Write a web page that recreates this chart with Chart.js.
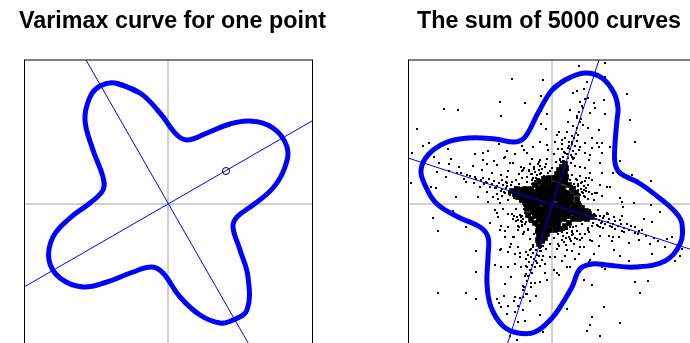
<!DOCTYPE html>
<html>
<head>
<meta charset="utf-8">
<script src="https://cdn.jsdelivr.net/npm/chart.js@4"></script>
<style>
  html, body { margin: 0; padding: 0; background: #fff; }
  #wrap { position: relative; width: 690px; height: 343px; overflow: hidden; }
  canvas { position: absolute; top: 0; }
  #left { left: 0; }
  #right { left: 345px; }
</style>
</head>
<body>
<div id="wrap">
  <canvas id="left" width="345" height="360"></canvas>
  <canvas id="right" width="408" height="360"></canvas>
</div>
<script>
// ---- data -------------------------------------------------------------
const LIM = 1.44;
const titles = ['Varimax curve for one point', 'The sum of 5000 curves'];

// criterion curve for a single loading point
const leftCurve = [
  [-0.53,1.21],[-0.28,1.11],[-0.08,0.91],[0.09,0.69],[0.20,0.64],[0.39,0.71],[0.62,0.80],
  [0.82,0.83],[1.05,0.76],[1.19,0.57],[1.17,0.37],[1.05,0.16],[0.85,-0.01],[0.69,-0.13],
  [0.65,-0.23],[0.72,-0.46],[0.80,-0.73],[0.79,-1.06],[0.65,-1.16],[0.52,-1.19],[0.32,-1.11],
  [0.12,-0.93],[-0.05,-0.69],[-0.16,-0.63],[-0.35,-0.68],[-0.61,-0.78],[-0.85,-0.83],
  [-1.08,-0.74],[-1.19,-0.56],[-1.15,-0.33],[-0.98,-0.14],[-0.78,0.01],[-0.65,0.14],
  [-0.65,0.27],[-0.75,0.54],[-0.83,0.84],[-0.78,1.07],[-0.68,1.18]
];
const leftAxisA = [[-1.44,-0.83],[1.44,0.83]];
const leftAxisB = [[-0.82,1.44],[0.83,-1.44]];
const leftPoint = [[0.58,0.33]];

// summed criterion curve
const rightCurve = [
  [0.00,1.14],[0.13,1.24],[0.33,1.31],[0.50,1.26],[0.62,1.11],[0.66,0.96],[0.65,0.84],
  [0.63,0.60],[0.63,0.41],[0.68,0.31],[0.87,0.21],[1.10,0.04],[1.25,-0.10],[1.30,-0.20],
  [1.28,-0.40],[1.13,-0.57],[0.83,-0.63],[0.55,-0.61],[0.40,-0.60],[0.28,-0.65],[0.20,-0.83],
  [0.10,-1.00],[0.00,-1.14],[-0.17,-1.28],[-0.34,-1.29],[-0.49,-1.22],[-0.61,-1.03],
  [-0.65,-0.80],[-0.64,-0.53],[-0.64,-0.33],[-0.72,-0.23],[-0.94,-0.13],[-1.16,0.01],
  [-1.27,0.19],[-1.31,0.34],[-1.24,0.49],[-1.07,0.61],[-0.84,0.66],[-0.57,0.65],
  [-0.37,0.62],[-0.27,0.67],[-0.14,0.91]
];
const rightAxisA = [[-1.44,0.46],[1.44,-0.47]];
const rightAxisB = [[0.47,1.44],[-0.46,-1.44]];

// loadings: scattered points away from the centre
const loadingsOuter = [
  [-0.40,1.25],[-0.09,1.24],[-0.11,1.08],[-0.52,1.02],[-0.27,1.01],[-1.08,0.95],[-0.94,0.94],
  [-0.51,0.88],[-0.11,0.93],[-0.05,0.90],[-0.11,0.80],[-0.06,0.75],[-1.35,0.75],[-0.12,0.62],
  [-1.23,0.61],[-1.29,0.58],[-1.40,0.51],[-1.04,0.55],[-0.53,0.60],[-0.30,0.58],[-0.28,0.54],
  [-0.45,0.53],[-0.64,0.53],[-0.77,0.50],[-1.18,0.47],[-1.01,0.45],[-0.48,0.46],[-0.37,0.50],
  [-0.69,0.44],[-0.58,0.43],[-0.20,0.45],[-0.13,0.42],[-0.04,0.54],[-1.13,0.41],[-1.03,0.40],
  [-0.93,0.37],[-0.79,0.38],[-0.65,0.40],[-0.55,0.39],[-0.42,0.41],[-0.31,0.37],[-0.23,0.34],
  [-0.07,0.37],[-1.15,0.32],[-1.06,0.27],[-0.91,0.31],[-0.86,0.22],[-0.77,0.27],[-0.70,0.34],
  [-0.60,0.31],[-0.51,0.29],[-0.44,0.33],[-1.41,0.21],[-1.21,0.17],[-1.16,0.16],[-0.96,0.07],
  [-0.74,0.07],[-0.65,0.12],[-0.72,0.17],[-0.57,0.16],[-0.37,0.17],[-0.54,0.05],[-0.64,0.02],
  [0.27,1.38],[0.53,1.41],[0.53,1.27],[0.21,1.11],[0.25,1.13],[0.75,1.10],[0.36,1.06],
  [0.52,1.04],[0.28,1.02],[0.42,1.01],[0.18,0.94],[0.31,0.96],[0.43,0.96],[0.38,0.91],
  [0.53,0.90],[0.78,0.84],[0.16,0.82],[0.25,0.86],[0.31,0.79],[0.36,0.76],[0.47,0.74],
  [0.05,0.69],[0.15,0.72],[0.83,0.62],[0.03,0.62],[0.10,0.64],[0.40,0.66],[0.33,0.61],
  [0.50,0.61],[0.47,0.57],[0.58,0.57],[0.40,0.56],[0.27,0.54],[0.33,0.51],[0.50,0.51],
  [0.20,0.47],[0.37,0.44],[0.68,0.43],[0.23,0.38],[0.33,0.36],[0.50,0.31],[0.80,0.29],
  [0.20,0.29],[0.37,0.26],[0.25,0.24],[0.99,0.23],[0.48,0.19],[0.32,0.18],[0.58,0.17],
  [0.18,0.15],[0.40,0.24],[0.32,0.14],[0.43,0.11],[0.50,0.08],[0.70,0.02],[0.82,0.01],
  [0.42,0.04],[0.33,0.07],[0.28,0.09],
  [-0.99,-0.07],[-1.19,-0.14],[-1.14,-0.27],[-0.86,-0.23],[-0.76,-0.47],[-0.76,-0.68],
  [-1.14,-0.89],[-0.86,-0.89],[-0.76,-0.95],[-0.57,-0.06],[-0.54,-0.13],[-0.51,-0.22],
  [-0.47,-0.27],[-0.51,-0.45],[-0.57,-0.61],[-0.51,-0.63],[-0.44,-0.63],[-0.47,-0.80],
  [-0.41,-0.73],[-0.48,-0.92],[-0.55,-0.95],[-0.53,-0.99],[-0.44,-1.02],[-0.51,-1.03],
  [-0.37,-0.93],[-0.29,-0.93],[-0.38,-0.97],[-0.29,-1.06],[-0.45,-1.10],[-0.34,-1.18],
  [-0.27,-1.17],[-0.12,-1.11],[-0.09,-1.28],[-0.42,-1.32],[-0.35,-1.36],[-0.22,-0.97],
  [-0.16,-0.92],[-0.21,-0.83],[-0.12,-0.78],[-0.07,-0.69],[-0.17,-0.79],[-0.26,-0.90],
  [-0.29,-0.82],[-0.27,-0.72],[-0.31,-0.63],[-0.37,-0.60],[-0.26,-0.62],[-0.37,-0.50],
  [-0.32,-0.53],[-0.26,-0.55],[-0.12,-0.62],[-0.07,-0.60],[-0.02,-0.53],[-0.09,-0.52],
  [-0.44,-0.48],[-0.41,-0.40],[-0.34,-0.43],[-0.26,-0.48],[-0.19,-0.43],[-0.12,-0.47],
  [-0.06,-0.45],[-0.38,-0.33],[-0.47,-0.33],[-0.29,-0.30],[-0.44,-0.23],[-0.34,-0.22],
  [-0.39,-0.15],[-0.31,-0.13],[-0.44,-0.10],[-0.49,-0.05],
  [0.99,-0.01],[1.08,-0.08],[0.92,-0.15],[1.00,-0.18],[1.15,-0.35],[1.20,-0.33],[0.98,-0.40],
  [1.13,-0.43],[1.00,-0.50],[1.30,-0.45],[1.28,-0.52],[1.23,-0.57],[0.80,-0.63],[0.77,-0.57],
  [0.65,-0.62],[0.53,-0.65],[0.50,-0.63],[0.15,-0.63],[0.07,-0.71],[0.02,-0.66],[0.40,-0.81],
  [0.32,-0.76],[0.83,-0.78],[0.96,-0.77],[0.88,-0.89],[0.15,-1.05],[0.52,-1.03],[0.40,-1.13],
  [0.38,-1.21],[0.68,-1.19],[0.35,-1.27],[0.48,-1.32],
  [0.55,-0.10],[0.62,-0.13],[0.70,-0.12],[0.75,-0.20],[0.83,-0.23],[0.87,-0.27],[0.72,-0.28],
  [0.60,-0.23],[0.57,-0.32],[0.48,-0.32],[0.40,-0.37],[0.37,-0.28],[0.32,-0.43],[0.25,-0.35],
  [0.20,-0.47],[0.27,-0.50],[0.13,-0.52],[0.07,-0.42],[0.03,-0.53],[0.60,-0.37],[0.67,-0.33],
  [0.77,-0.39],[0.87,-0.36],[0.62,-0.46],[0.47,-0.42],[0.42,-0.50],[0.37,-0.58],[0.23,-0.55],
  [0.10,-0.57],[0.68,-0.52]
];

// loadings: the busier ring around the centre
const loadingsMiddle = [
  [-0.65,0.21],[-0.69,0.51],[-0.47,0.47],[-0.39,0.41],[-0.25,0.51],[-0.19,0.57],[-0.05,0.59],
  [-0.12,0.44],[0.28,0.57],[0.38,0.49],[0.45,0.61],[0.48,0.41],[0.28,0.37],[0.38,0.31],
  [0.61,0.31],[0.55,0.17],[0.45,0.11],[0.68,0.06],[0.71,-0.03],[0.55,-0.09],[0.68,-0.16],
  [0.48,-0.23],[0.61,-0.33],[0.38,-0.36],[0.28,-0.43],[0.15,-0.46],[0.38,-0.56],[0.18,-0.63],
  [0.05,-0.69],[-0.05,-0.76],[-0.15,-0.59],[-0.32,-0.49],[-0.42,-0.43],[-0.52,-0.46],
  [-0.39,-0.33],[-0.52,-0.26],[-0.62,-0.19],[-0.55,-0.09],[-0.52,0.01],[-0.59,0.07],
  [-0.45,0.27],[-0.29,0.34],[0.08,0.44],[0.11,0.34],
  [-0.30,0.26],[-0.25,0.22],[-0.33,0.20],[-0.40,0.22],[-0.45,0.18],[-0.48,0.12],[-0.42,0.10],
  [-0.36,0.12],[-0.30,0.15],[-0.26,0.10],[-0.20,0.20],[-0.16,0.26],[-0.12,0.30],[-0.08,0.28],
  [-0.04,0.31],[-0.02,0.26],[-0.10,0.22],[-0.50,0.08],[-0.44,0.04],[-0.38,0.06],[-0.32,0.03],
  [0.02,0.50],[0.06,0.55],[0.08,0.45],[0.12,0.52],[0.04,0.42],[0.10,0.38],[0.14,0.42],
  [0.00,0.36],[0.07,0.33],[0.16,0.34],[0.12,0.28],[0.03,0.28],[0.18,0.24],[0.08,0.22],
  [0.14,0.20],[0.22,0.20],[0.10,0.60],[0.13,0.66],[0.07,0.72],[0.17,0.58],[0.20,0.62],
  [-0.20,-0.05],[-0.25,-0.10],[-0.22,-0.18],[-0.28,-0.05],[-0.16,-0.22],[-0.30,-0.18],
  [-0.24,-0.26],[-0.18,-0.30],[-0.12,-0.34],[-0.08,-0.38],[-0.15,-0.38],[-0.22,-0.35],
  [-0.10,-0.28],[-0.04,-0.30],[-0.02,-0.40],
  [0.26,-0.14],[0.30,-0.20],[0.35,-0.16],[0.40,-0.22],[0.44,-0.15],[0.50,-0.18],[0.36,-0.26],
  [0.24,-0.22],[0.20,-0.28],[0.28,-0.30],[0.16,-0.20],[0.46,-0.06],[0.38,-0.06],[0.30,-0.02],
  [0.25,0.05],[0.32,0.08],[0.20,0.12],[0.26,0.14],[0.12,-0.26],[0.06,-0.30],[0.04,-0.24],
  // along the upper-left arm
  [-0.41,0.19],[-0.38,0.07],[-0.43,0.10],[-0.45,0.21],[-0.42,0.09],[-0.46,0.16],[-0.43,0.12],
  [-0.49,0.19],[-0.47,0.11],[-0.50,0.15],[-0.46,0.22],[-0.53,0.21],[-0.51,0.13],[-0.55,0.18],
  [-0.50,0.24],[-0.58,0.23],[-0.56,0.16],[-0.60,0.20],[-0.55,0.10],[-0.63,0.25],[-0.62,0.17],
  [-0.66,0.22],[-0.69,0.26],[-0.68,0.20],[-0.71,0.24],[-0.76,0.25],[-0.78,0.21],[-0.82,0.28],
  [-0.85,0.29],[-0.88,0.25],[-0.95,0.31],[-1.03,0.33],
  // along the lower-right arm
  [0.41,-0.19],[0.38,-0.08],[0.43,-0.11],[0.45,-0.21],[0.42,-0.10],[0.47,-0.16],[0.44,-0.12],
  [0.49,-0.19],[0.48,-0.12],[0.51,-0.14],[0.46,-0.22],[0.53,-0.20],[0.52,-0.12],[0.56,-0.18],
  [0.51,-0.24],[0.58,-0.22],[0.57,-0.15],[0.61,-0.20],[0.56,-0.10],[0.63,-0.25],[0.63,-0.17],
  [0.66,-0.22],[0.70,-0.27],[0.69,-0.20],[0.72,-0.24],[0.77,-0.26],[0.79,-0.22],[0.83,-0.29],
  [0.86,-0.30],[0.90,-0.26],[0.94,-0.32],[1.02,-0.34],[1.06,-0.37],
  // along the upper-right arm
  [0.19,0.41],[0.08,0.38],[0.11,0.43],[0.21,0.45],[0.09,0.42],[0.16,0.46],[0.12,0.43],
  [0.19,0.49],[0.11,0.47],[0.15,0.50],[0.22,0.46],[0.21,0.53],[0.13,0.51],[0.18,0.55],
  [0.24,0.50],[0.23,0.58],[0.16,0.56],[0.20,0.60],[0.10,0.55],[0.25,0.63],[0.17,0.62],
  [0.22,0.66],[0.26,0.69],[0.20,0.68],[0.24,0.71],[0.25,0.76],[0.21,0.78],[0.28,0.82],
  [0.29,0.85],[0.25,0.88],[0.27,0.92],[0.30,0.98],[0.33,1.05],[0.32,1.15],[0.35,1.22],
  // along the lower-left arm
  [-0.19,-0.41],[-0.08,-0.38],[-0.11,-0.43],[-0.21,-0.45],[-0.09,-0.42],[-0.16,-0.46],
  [-0.12,-0.44],[-0.19,-0.49],[-0.11,-0.47],[-0.15,-0.51],[-0.22,-0.46],[-0.21,-0.53],
  [-0.13,-0.52],[-0.18,-0.55],[-0.24,-0.51],[-0.23,-0.58],[-0.16,-0.57],[-0.20,-0.61],
  [-0.10,-0.56],[-0.25,-0.63],[-0.17,-0.63],[-0.22,-0.66],[-0.26,-0.70],[-0.20,-0.69],
  [-0.24,-0.72],[-0.25,-0.77],[-0.21,-0.79],[-0.28,-0.83],[-0.29,-0.86],[-0.25,-0.90],
  [-0.32,-0.94],[-0.34,-1.02],[-0.37,-1.08],
  // between the arms
  [-0.15,0.25],[-0.20,0.30],[-0.25,0.27],[-0.18,0.35],[-0.10,0.35],[-0.06,0.40],[-0.14,0.40],
  [-0.22,0.40],[-0.28,0.36],[-0.33,0.30],[-0.36,0.24],[-0.05,0.45],[-0.02,0.33],[-0.08,0.25],
  [-0.20,0.24],[-0.30,0.33],
  [0.15,-0.25],[0.20,-0.31],[0.25,-0.27],[0.18,-0.35],[0.10,-0.36],[0.06,-0.40],[0.14,-0.41],
  [0.22,-0.40],[0.28,-0.36],[0.33,-0.30],[0.36,-0.24],[0.05,-0.45],[0.02,-0.34],[0.08,-0.25],
  [0.21,-0.23],[0.30,-0.34],
  [0.22,0.10],[0.26,0.18],[0.30,0.12],[0.20,0.18],[0.24,0.25],[0.30,0.22],[0.34,0.16],
  [0.36,0.05],[0.40,0.10],[0.16,0.28],[0.28,0.28],[0.34,0.26],
  [-0.22,-0.10],[-0.26,-0.18],[-0.30,-0.12],[-0.20,-0.18],[-0.24,-0.25],[-0.30,-0.22],
  [-0.34,-0.16],[-0.36,-0.05],[-0.40,-0.10],[-0.16,-0.28],[-0.28,-0.28],[-0.34,-0.26],
  // fuzzy edge of the cluster, in the gaps between arms
  [0.25,0.13],[0.23,0.17],[0.27,0.10],[0.29,0.15],[0.26,0.20],[0.31,0.11],[0.32,0.18],
  [0.34,0.13],[0.29,0.21],[0.36,0.19],[0.37,0.12],[0.33,0.23],
  [-0.13,0.25],[-0.17,0.23],[-0.10,0.27],[-0.15,0.29],[-0.19,0.26],[-0.11,0.31],[-0.17,0.32],
  [-0.13,0.34],[-0.21,0.30],[-0.18,0.37],[-0.12,0.38],[-0.23,0.33],
  [-0.25,-0.13],[-0.22,-0.17],[-0.27,-0.09],[-0.29,-0.15],[-0.27,-0.20],[-0.32,-0.11],
  [-0.31,-0.17],[-0.35,-0.13],[-0.30,-0.21],[-0.36,-0.17],[-0.38,-0.12],[-0.33,-0.23],
  [0.13,-0.25],[0.18,-0.23],[0.10,-0.28],[0.15,-0.29],[0.20,-0.27],[0.11,-0.32],[0.17,-0.33],
  [0.14,-0.34],[0.21,-0.30],[0.19,-0.37],[0.12,-0.38],[0.23,-0.34]
];

// loadings: the solid cluster at the centre
const loadingsCore = [
  [-0.08,0.20],[-0.03,0.21],[0.02,0.20],[0.07,0.19],
  [-0.14,0.16],[-0.09,0.17],[-0.04,0.16],[0.01,0.16],[0.06,0.15],[0.11,0.16],
  [-0.18,0.12],[-0.13,0.12],[-0.08,0.13],[-0.03,0.12],[0.02,0.11],[0.07,0.12],[0.12,0.12],[0.16,0.11],
  [-0.20,0.08],[-0.15,0.07],[-0.10,0.08],[-0.05,0.08],[0.00,0.09],[0.05,0.08],[0.10,0.07],[0.15,0.08],[0.19,0.08],
  [-0.21,0.04],[-0.16,0.04],[-0.11,0.03],[-0.06,0.04],[-0.01,0.04],[0.04,0.05],[0.09,0.04],[0.14,0.03],[0.19,0.04],
  [-0.22,0.00],[-0.17,0.00],[-0.12,0.01],[-0.07,0.00],[-0.02,0.00],[0.03,-0.01],[0.08,0.00],[0.13,0.00],[0.18,0.01],[0.22,-0.01],
  [-0.20,-0.04],[-0.15,-0.04],[-0.10,-0.05],[-0.05,-0.04],[0.00,-0.04],[0.05,-0.04],[0.10,-0.03],[0.15,-0.04],[0.20,-0.05],
  [-0.19,-0.08],[-0.14,-0.08],[-0.09,-0.08],[-0.04,-0.09],[0.01,-0.08],[0.06,-0.08],[0.11,-0.08],[0.16,-0.09],[0.20,-0.08],
  [-0.17,-0.12],[-0.12,-0.12],[-0.07,-0.11],[-0.02,-0.12],[0.03,-0.12],[0.08,-0.13],[0.13,-0.12],[0.17,-0.12],
  [-0.13,-0.16],[-0.08,-0.16],[-0.03,-0.17],[0.02,-0.16],[0.07,-0.16],[0.12,-0.15],
  [-0.09,-0.20],[-0.04,-0.20],[0.01,-0.21],[0.06,-0.20],
  // outer ring of the cluster
  [0.26,0.00],[0.25,0.05],[0.24,0.11],[0.21,0.15],[0.17,0.19],[0.13,0.22],[0.08,0.25],
  [0.03,0.26],[-0.03,0.26],[-0.08,0.25],[-0.13,0.22],[-0.17,0.19],[-0.21,0.15],[-0.24,0.11],
  [-0.25,0.05],[-0.26,0.00],[-0.25,-0.05],[-0.24,-0.11],[-0.21,-0.15],[-0.17,-0.19],
  [-0.13,-0.22],[-0.08,-0.25],[-0.03,-0.26],[0.03,-0.26],[0.08,-0.25],[0.13,-0.22],
  [0.17,-0.19],[0.21,-0.15],[0.24,-0.11],[0.25,-0.05],
  // arms of the cluster
  [0.23,-0.14],[0.24,-0.10],[0.25,-0.06],[0.27,-0.02],[0.27,-0.15],[0.28,-0.11],[0.29,-0.07],
  [0.30,-0.04],[0.31,-0.14],[0.32,-0.11],[0.34,-0.07],[0.35,-0.15],[0.37,-0.10],[0.40,-0.13],
  [-0.23,0.14],[-0.24,0.10],[-0.25,0.06],[-0.27,0.02],[-0.27,0.15],[-0.28,0.11],[-0.29,0.07],
  [-0.30,0.04],[-0.31,0.14],[-0.32,0.11],[-0.34,0.07],[-0.35,0.15],[-0.37,0.10],[-0.40,0.13],
  [0.13,0.23],[0.09,0.24],[0.06,0.25],[0.03,0.26],[0.14,0.27],[0.10,0.28],[0.07,0.29],
  [0.05,0.30],[0.13,0.31],[0.10,0.33],[0.07,0.34],[0.14,0.36],[0.10,0.37],[0.13,0.40],
  [-0.13,-0.23],[-0.09,-0.24],[-0.06,-0.25],[-0.03,-0.26],[-0.14,-0.27],[-0.10,-0.28],[-0.07,-0.29],
  [-0.05,-0.30],[-0.13,-0.31],[-0.10,-0.33],[-0.07,-0.34],[-0.14,-0.36],[-0.10,-0.37],[-0.13,-0.40]
];

// ---- helpers ----------------------------------------------------------
const toXY = arr => arr.map(([x, y]) => ({ x, y }));
// repeat the first two vertices so the smoothed outline closes without a kink
const closeLoop = arr => [...arr, arr[0], arr[1]];

const BLUE = '#0000ff';
const TITLE_FONT = "bold 23.3px 'Liberation Sans', Arial, Helvetica, sans-serif";

// grey reference cross under the data, black frame over it
const framePlugin = {
  id: 'frame',
  beforeDatasetsDraw(chart) {
    const { ctx, chartArea: a, scales: { x, y } } = chart;
    const x0 = x.getPixelForValue(0), y0 = y.getPixelForValue(0);
    ctx.save();
    ctx.strokeStyle = '#d0d0d0';
    ctx.lineWidth = 2;
    ctx.beginPath();
    ctx.moveTo(x0, a.top); ctx.lineTo(x0, a.bottom);
    ctx.moveTo(a.left, y0); ctx.lineTo(a.right, y0);
    ctx.stroke();
    ctx.restore();
  },
  afterDatasetsDraw(chart) {
    const { ctx, chartArea: a } = chart;
    ctx.save();
    ctx.strokeStyle = '#000';
    ctx.lineWidth = 1;
    ctx.strokeRect(a.left + 0.5, a.top, a.right - a.left, a.bottom - a.top);
    ctx.restore();
  }
};

// panel heading, centred on the canvas and free of the plot-area width limit
const headingPlugin = {
  id: 'heading',
  afterDraw(chart, args, opts) {
    const ctx = chart.ctx;
    ctx.save();
    ctx.font = TITLE_FONT;
    ctx.fillStyle = '#000';
    ctx.textAlign = 'center';
    ctx.textBaseline = 'alphabetic';
    ctx.fillText(opts.text, chart.width / 2, 28);
    ctx.restore();
  }
};

function curveSet(points, order) {
  return { data: toXY(closeLoop(points)), showLine: true, borderColor: BLUE, borderWidth: 5,
           pointRadius: 0, tension: 0.4, fill: false, order };
}
function axisSet(points, order) {
  return { data: toXY(points), showLine: true, borderColor: BLUE, borderWidth: 1,
           pointRadius: 0, tension: 0, fill: false, order };
}
function dotSet(points, radius, order) {
  return { data: toXY(points), showLine: false, pointStyle: 'rect', pointRadius: radius,
           backgroundColor: '#000', borderWidth: 0, order };
}

function makeChart(id, title, padLeft, padRight, datasets) {
  return new Chart(document.getElementById(id), {
    type: 'scatter',
    data: { datasets },
    options: {
      responsive: false,
      animation: false,
      devicePixelRatio: 1,
      events: [],
      layout: { padding: { left: padLeft, right: padRight, top: 60, bottom: 12 } },
      scales: {
        x: { type: 'linear', min: -LIM, max: LIM, display: false },
        y: { type: 'linear', min: -LIM, max: LIM, display: false }
      },
      plugins: {
        legend: { display: false },
        tooltip: { enabled: false },
        title: { display: false },
        heading: { text: title }
      }
    },
    plugins: [framePlugin, headingPlugin]
  });
}

// ---- charts -----------------------------------------------------------
makeChart('left', titles[0], 24, 33, [
  curveSet(leftCurve, 3),
  axisSet(leftAxisA, 2),
  axisSet(leftAxisB, 2),
  { data: toXY(leftPoint), showLine: false, pointStyle: 'circle', pointRadius: 3.5,
    borderColor: '#000', borderWidth: 1, backgroundColor: 'rgba(0,0,0,0)', order: 1 }
]);

makeChart('right', titles[1], 63, 57, [
  dotSet(loadingsOuter, 1.42, 6),
  dotSet(loadingsMiddle, 1.42, 6),
  dotSet(loadingsCore, 4, 5),
  curveSet(rightCurve, 3),
  axisSet(rightAxisA, 2),
  axisSet(rightAxisB, 2)
]);
</script>
</body>
</html>
